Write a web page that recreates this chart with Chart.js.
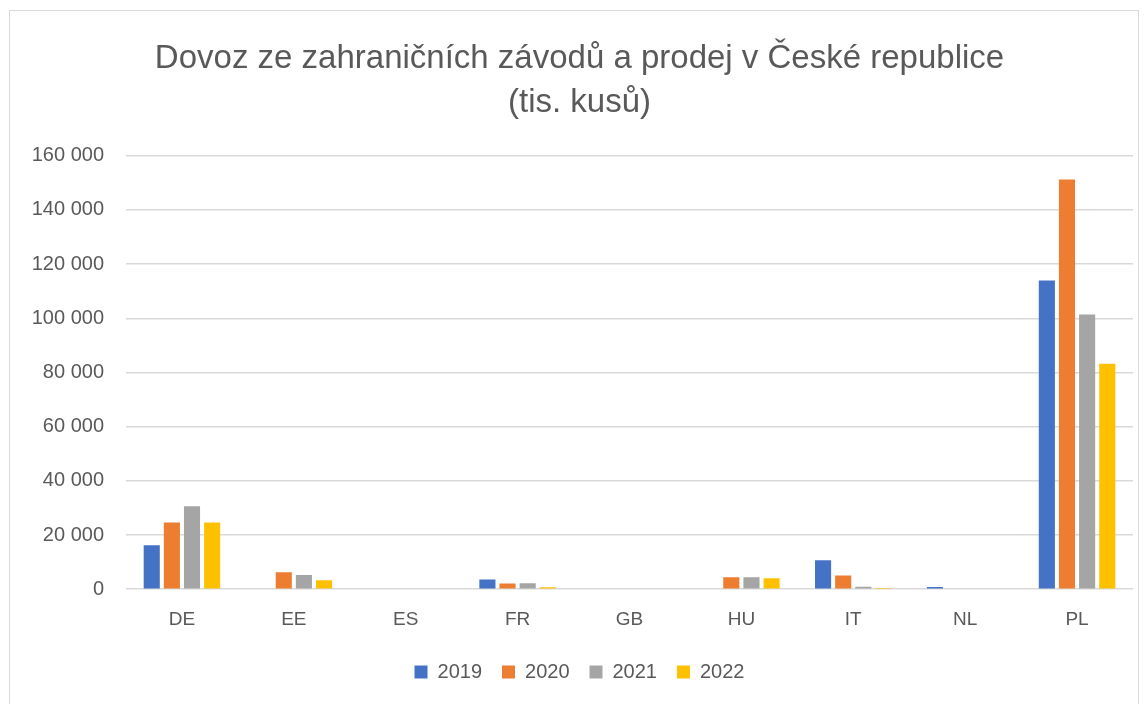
<!DOCTYPE html>
<html>
<head>
<meta charset="utf-8">
<script src="https://cdn.jsdelivr.net/npm/chart.js@4.4.0/dist/chart.umd.min.js"></script>
<style>
    html, body { margin: 0; padding: 0; background: #fff; }
    #wrap {
        position: absolute; left: 9px; top: 10px;
        width: 1130px; height: 700px;
        border: 1px solid #d9d9d9; box-sizing: border-box;
    }
    #chartId { display: block; }
</style>
</head>
<body>
<div id="wrap"><canvas id="chartId"></canvas></div>
<script>
// Data (tis. kusů)
const countries = ['DE', 'EE', 'ES', 'FR', 'GB', 'HU', 'IT', 'NL', 'PL'];
const years = ['2019', '2020', '2021', '2022'];
const v2019 = [16200, 0, 0, 3600, 0, 0, 10700, 800, 114000];
const v2020 = [24600, 6300, 0, 2100, 0, 4400, 5100, 0, 151200];
const v2021 = [30600, 5200, 0, 2200, 0, 4400, 900, 0, 101400];
const v2022 = [24600, 3300, 0, 700, 0, 4000, 400, 0, 83200];

const colors = ['#4472c4', '#ed7d31', '#a5a5a5', '#ffc000'];
const textColor = '#595959';
const fontFamily = 'Liberation Sans, Arial, sans-serif';

const seriesValues = [v2019, v2020, v2021, v2022];

const wrap = document.getElementById('wrap');
const canvasElement = document.getElementById('chartId');
canvasElement.width = wrap.clientWidth;
canvasElement.height = wrap.clientHeight;

const chart = new Chart(canvasElement.getContext('2d'), {
    type: 'bar',
    data: {
        labels: countries,
        datasets: years.map((year, i) => ({
            label: year,
            data: seriesValues[i],
            backgroundColor: colors[i],
            borderWidth: 0,
            categoryPercentage: 0.72,
            barPercentage: 0.8
        }))
    },
    options: {
        responsive: false,
        animation: false,
        layout: { padding: { left: 16, right: 5, top: 26, bottom: 17 } },
        plugins: {
            title: {
                display: true,
                text: ['Dovoz ze zahraničních závodů a prodej v České republice', '(tis. kusů)'],
                color: textColor,
                font: { family: fontFamily, size: 33, weight: 'normal', lineHeight: 1.33 },
                padding: { top: 0, bottom: 31 }
            },
            legend: {
                position: 'bottom',
                labels: {
                    color: textColor,
                    font: { family: fontFamily, size: 20 },
                    boxWidth: 13,
                    boxHeight: 13,
                    padding: 20
                }
            },
            tooltip: { enabled: false }
        },
        scales: {
            x: {
                grid: { display: false },
                border: { display: false },
                ticks: { color: textColor, font: { family: fontFamily, size: 19 }, padding: 11 }
            },
            y: {
                min: 0,
                max: 160000,
                afterFit: (scale) => { scale.width = 100; },
                grid: { color: '#d9d9d9', lineWidth: 1.5, drawTicks: false },
                border: { display: false },
                ticks: {
                    stepSize: 20000,
                    color: textColor,
                    font: { family: fontFamily, size: 20 },
                    padding: 22,
                    callback: (value) => value.toString().replace(/\B(?=(\d{3})+(?!\d))/g, ' ')
                }
            }
        }
    }
});
</script>
</body>
</html>
